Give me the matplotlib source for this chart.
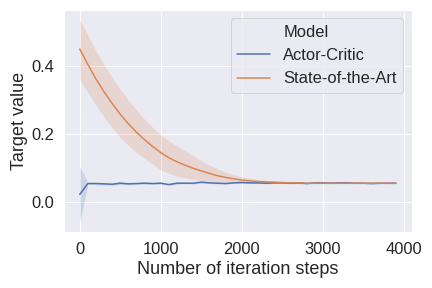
import matplotlib
matplotlib.use("Agg")
import matplotlib.pyplot as plt
import seaborn as sns
from matplotlib.lines import Line2D

sns.set(font_scale=1.5)
plt.rcParams['font.family'] = ['Liberation Sans', 'DejaVu Sans']

# iteration steps
steps = list(range(0, 4000, 100))

# Actor-Critic: mean and confidence band
ac_mean = [0.022, 0.054, 0.054, 0.053, 0.052, 0.055, 0.053, 0.054, 0.055, 0.054,
           0.055, 0.051, 0.055, 0.055, 0.055, 0.058, 0.056, 0.055, 0.054, 0.056,
           0.057, 0.056, 0.056, 0.055, 0.056, 0.056, 0.055, 0.056, 0.054, 0.056,
           0.056, 0.055, 0.056, 0.056, 0.055, 0.055, 0.054, 0.055, 0.055, 0.055]
ac_low = [-0.062, 0.052, 0.051, 0.050, 0.049, 0.051, 0.050, 0.051, 0.052, 0.051,
          0.052, 0.049, 0.052, 0.053, 0.053, 0.055, 0.054, 0.053, 0.052, 0.054,
          0.055, 0.054, 0.054, 0.053, 0.054, 0.054, 0.053, 0.054, 0.052, 0.054,
          0.054, 0.053, 0.054, 0.054, 0.053, 0.053, 0.052, 0.053, 0.053, 0.053]
ac_high = [0.105, 0.056, 0.057, 0.056, 0.055, 0.059, 0.056, 0.057, 0.058, 0.057,
           0.058, 0.053, 0.058, 0.057, 0.057, 0.061, 0.058, 0.057, 0.056, 0.058,
           0.059, 0.058, 0.058, 0.057, 0.058, 0.058, 0.057, 0.058, 0.056, 0.058,
           0.058, 0.057, 0.058, 0.058, 0.057, 0.057, 0.056, 0.057, 0.057, 0.057]

# State-of-the-Art: mean and confidence band
sota_mean = [0.450, 0.405, 0.362, 0.324, 0.290, 0.258, 0.230, 0.205, 0.183, 0.163,
             0.145, 0.130, 0.118, 0.108, 0.099, 0.091, 0.084, 0.077, 0.072, 0.068,
             0.064, 0.062, 0.060, 0.059, 0.058, 0.057, 0.056, 0.056, 0.055, 0.055,
             0.055, 0.055, 0.055, 0.055, 0.055, 0.055, 0.055, 0.055, 0.055, 0.055]
sota_low = [0.360, 0.322, 0.285, 0.250, 0.218, 0.190, 0.166, 0.145, 0.127, 0.111,
            0.094, 0.084, 0.076, 0.070, 0.066, 0.063, 0.061, 0.060, 0.058, 0.057,
            0.056, 0.055, 0.055, 0.055, 0.055, 0.055, 0.054, 0.054, 0.054, 0.054,
            0.054, 0.054, 0.054, 0.054, 0.054, 0.054, 0.054, 0.054, 0.054, 0.054]
sota_high = [0.537, 0.492, 0.445, 0.403, 0.366, 0.332, 0.300, 0.270, 0.243, 0.219,
             0.197, 0.180, 0.165, 0.150, 0.136, 0.121, 0.108, 0.097, 0.088, 0.080,
             0.074, 0.069, 0.065, 0.063, 0.061, 0.059, 0.058, 0.058, 0.057, 0.057,
             0.056, 0.056, 0.056, 0.056, 0.056, 0.056, 0.056, 0.056, 0.056, 0.056]

pal = sns.color_palette("deep")

fig, ax = plt.subplots(figsize=(6, 4), dpi=72)
l1, = ax.plot(steps, ac_mean, color=pal[0], lw=1.5)
ax.fill_between(steps, ac_low, ac_high, color=pal[0], alpha=0.2, lw=0)
l2, = ax.plot(steps, sota_mean, color=pal[1], lw=1.5)
ax.fill_between(steps, sota_low, sota_high, color=pal[1], alpha=0.2, lw=0)

ax.set_xlim(-195, 4095)
ax.set_ylim(-0.09, 0.565)
ax.set_xticks([0, 1000, 2000, 3000, 4000])
ax.set_yticks([0.0, 0.2, 0.4])
ax.set_xlabel("Number of iteration steps")
ax.set_ylabel("Target value")

blank = Line2D([], [], color='none')
ax.legend([blank, l1, l2], ["Model", "Actor-Critic", "State-of-the-Art"], loc='upper right')

fig.subplots_adjust(left=0.148, right=0.953, top=0.965, bottom=0.193)
fig.savefig("out.png", dpi=72)
